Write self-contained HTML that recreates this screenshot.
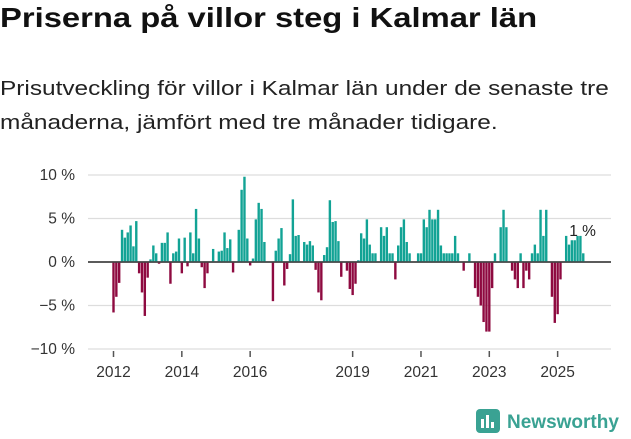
<!DOCTYPE html>
<html><head><meta charset="utf-8">
<style>
body{margin:0;width:631px;height:439px;background:#fff;font-family:"Liberation Sans",sans-serif;overflow:hidden;position:relative}
h1{position:absolute;left:0;top:2px;margin:0;font-size:28px;font-weight:bold;color:#111;white-space:nowrap;transform:scaleX(1.17);transform-origin:0 0}
p{position:absolute;left:0;top:72px;margin:0;font-size:20.5px;line-height:34px;color:#222;white-space:nowrap;transform:scaleX(1.19);transform-origin:0 0}
svg{position:absolute;left:0;top:0}
</style></head><body>
<h1>Priserna på villor steg i Kalmar län</h1>
<p>Prisutveckling för villor i Kalmar län under de senaste tre<br>månaderna, jämfört med tre månader tidigare.</p>
<svg id="chart" width="631" height="439"></svg>
<script>
const values=[-5.8,-4.0,-2.4,3.7,2.8,3.4,4.2,1.8,4.7,-1.3,-3.5,-6.2,-1.8,0.3,1.9,1.0,-0.2,2.2,2.2,3.4,-2.5,1.0,1.2,2.7,
-1.3,2.8,-0.5,3.4,1.0,6.1,2.7,-0.6,-3.0,-1.3,0,1.5,0,1.2,1.3,3.4,1.6,2.6,-1.2,0,3.7,8.3,9.8,2.7,
-0.4,0.4,4.9,6.8,6.1,2.3,0,0,-4.5,1.3,2.7,3.9,-2.7,-0.8,0.9,7.2,3.0,3.1,0,2.3,2.0,2.4,1.9,-0.9,
-3.5,-4.4,0.8,1.7,7.1,4.6,4.7,2.4,-1.7,0,-1.0,-3.1,-3.8,-2.5,0.2,3.3,2.7,4.9,2.0,1.0,1.0,0,
4.0,3.0,4.0,1.0,1.0,-2.0,1.9,4.0,4.9,2.3,1.0,0,0,1.0,1.0,4.9,4.0,6.0,4.9,4.9,6.0,1.9,1.0,1.0,
1.0,1.0,3.0,1.0,0,-1.0,0,1.0,0,-3.0,-4.0,-5.0,-6.9,-8.0,-8.0,-3.0,1.0,0,4.0,6.0,4.0,0,-1.0,-2.0,
-3.0,1.0,-3.0,-1.0,-2.0,1.0,2.0,1.0,6.0,3.0,6.0,0,-4.0,-7.0,-6.0,-2.0,0,3.0,2.0,2.5,2.5,3.0,3.0,1.0];
const startYear=2012;
const yTicks=[10,5,0,-5,-10];
const xTickYears=[2012,2014,2016,2019,2021,2023,2025];
const ns="http://www.w3.org/2000/svg";
const svg=document.getElementById('chart');
const y=v=>262-v*8.7;
const x=i=>113.5+i*2.847;
function mk(t,a){const e=document.createElementNS(ns,t);for(const k in a)e.setAttribute(k,a[k]);svg.appendChild(e);return e;}
yTicks.forEach(v=>{
 const l=mk('line',{x1:88,x2:611,y1:y(v),y2:y(v),stroke:v===0?'#444':'#ddd','stroke-width':v===0?1.5:1.3});
 
 
 const t=mk('text',{x:75,y:y(v)+5,'text-anchor':'end','font-size':15.5,fill:'#333','font-family':'Liberation Sans, sans-serif'});
 t.textContent=(v<0?'−'+(-v):v)+' %';
 
 
});
values.forEach((v,i)=>{
 if(v===0)return;
 const r=mk('rect',{x:x(i)-1.2,width:2.4,y:Math.min(y(v),262),height:Math.abs(y(v)-262),fill:v>0?'#12a395':'#8e0a40'});
 
 
});
const zl=mk('line',{x1:88,x2:611,y1:262,y2:262,stroke:'#444','stroke-width':1.5});


xTickYears.forEach(yr=>{
 const i=(yr-startYear)*12;
 const tk=mk('line',{x1:x(i),x2:x(i),y1:351,y2:357,stroke:'#555','stroke-width':1.5});
 
 
 const t=mk('text',{x:x(i),y:377,'text-anchor':'middle','font-size':15.5,fill:'#333','font-family':'Liberation Sans, sans-serif'});
 t.textContent=yr;
 
 
});
const last=values.length-1;
const lb=mk('text',{x:x(last)-14,y:236,'font-size':15.5,fill:'#222','font-family':'Liberation Sans, sans-serif'});
lb.textContent=values[last]+' %';


</script>
<svg width="631" height="439" style="pointer-events:none">
<rect x="476" y="409" width="24" height="24" rx="4" fill="#3aa293"/>
<rect x="481" y="419" width="3" height="9" fill="#fff"/><rect x="486" y="415" width="3" height="13" fill="#fff"/><rect x="491" y="422" width="3" height="6" fill="#fff"/>
<text x="507" y="428" font-size="19" font-weight="bold" fill="#3aa293" font-family="Liberation Sans, sans-serif">Newsworthy</text>
</svg>
</body></html>
